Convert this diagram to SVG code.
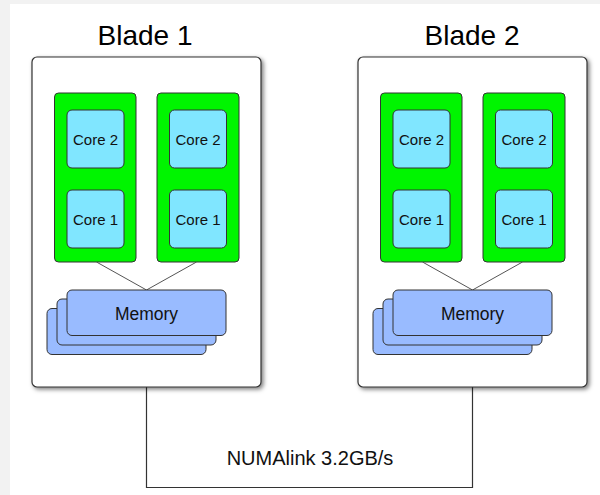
<svg xmlns="http://www.w3.org/2000/svg" width="600" height="495" viewBox="0 0 600 495">
<style>
.title{font-family:"Liberation Sans",Arial,sans-serif;font-size:28px;fill:#000;text-anchor:middle}
.lbl{font-family:"Liberation Sans",Arial,sans-serif;font-size:15px;fill:#111;text-anchor:middle}
.mlbl{font-family:"Liberation Sans",Arial,sans-serif;font-size:17.5px;fill:#111;text-anchor:middle}
.link{font-family:"Liberation Sans",Arial,sans-serif;font-size:20px;fill:#111;text-anchor:middle}
.blade{fill:#fff;stroke:#333;stroke-width:1.2}
.cpu{fill:#00f500;stroke:#333;stroke-width:1}
.core{fill:#80e6ff;stroke:#333;stroke-width:1}
.mem{fill:#99bbff;stroke:#333;stroke-width:1}
.wire{fill:none;stroke:#555;stroke-width:1}
.conn{fill:none;stroke:#333;stroke-width:1.2}
</style>
<defs>
<filter id="sh" x="-10%" y="-10%" width="130%" height="130%">
<feDropShadow dx="2" dy="2" stdDeviation="2" flood-color="#000" flood-opacity="0.5"/>
</filter>
<g id="bladeTpl">
<rect class="blade" x="0" y="0" width="229" height="330" rx="5" filter="url(#sh)"/>
<rect class="cpu" x="22.5" y="36" width="81.5" height="169" rx="4"/>
<rect class="cpu" x="125" y="36" width="82" height="169" rx="4"/>
<rect class="core" x="35" y="53" width="57" height="58" rx="5"/>
<rect class="core" x="35" y="133" width="57" height="58" rx="5"/>
<rect class="core" x="137.5" y="53" width="57" height="58" rx="5"/>
<rect class="core" x="137.5" y="133" width="57" height="58" rx="5"/>
<text class="lbl" x="63.5" y="88">Core 2</text>
<text class="lbl" x="63.5" y="168">Core 1</text>
<text class="lbl" x="166" y="88">Core 2</text>
<text class="lbl" x="166" y="168">Core 1</text>
<path class="wire" d="M64.5 205 L114.5 233 L164.5 205"/>
<rect class="mem" x="15" y="251.5" width="159" height="46" rx="5"/>
<rect class="mem" x="25" y="242" width="159" height="46" rx="5"/>
<rect class="mem" x="35" y="233" width="159" height="45.5" rx="5"/>
<text class="mlbl" x="114.5" y="263">Memory</text>
</g>
</defs>
<rect x="0" y="0" width="600" height="495" fill="#f2f2f2"/>
<rect x="10" y="4" width="590" height="491" fill="#fff"/>
<g id="connectors">
<path class="conn" d="M146.5 387 V487.5 H472.5 V387"/>
</g>
<g id="blade1">
<text class="title" x="145" y="45">Blade 1</text>
<use href="#bladeTpl" x="32" y="57"/>
</g>
<g id="blade2">
<text class="title" x="472" y="45">Blade 2</text>
<use href="#bladeTpl" x="358" y="57"/>
</g>
<text class="link" x="310" y="465">NUMAlink 3.2GB/s</text>
</svg>
